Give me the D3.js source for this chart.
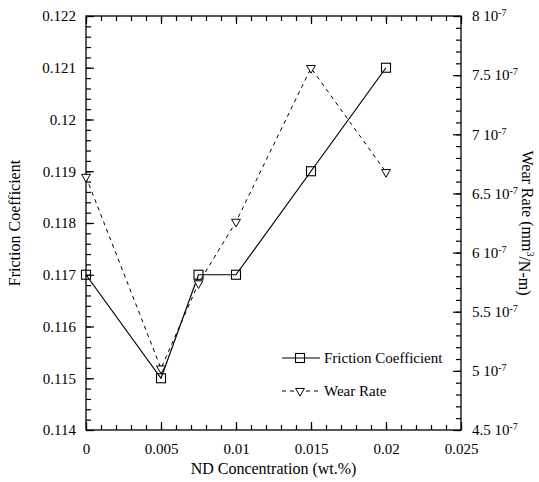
<!DOCTYPE html>
<html>
<head>
<meta charset="utf-8">
<script src="https://cdn.jsdelivr.net/npm/d3@7"></script>
<style>
  body { margin: 0; background: #fff; }
  #chart text { font-family: "Liberation Serif", "DejaVu Serif", serif !important; }
</style>
</head>
<body>
<svg id="chart"></svg>
<script>
// ND concentration (wt.%)
const concentration = [0, 0.005, 0.0075, 0.01, 0.015, 0.02];
const friction = [0.117, 0.115, 0.117, 0.117, 0.119, 0.121];
// wear rate in units of 1e-7 mm^3/N-m
const wearRate = [6.64, 5.02, 5.74, 6.26, 7.56, 6.68];

const xTicks = [0, 0.005, 0.01, 0.015, 0.02, 0.025];
const yLeftTicks = [0.114, 0.115, 0.116, 0.117, 0.118, 0.119, 0.12, 0.121, 0.122];
const yRightTicks = [4.5, 5, 5.5, 6, 6.5, 7, 7.5, 8];

const width = 539, height = 482;
const margin = { top: 16, right: 78, bottom: 52, left: 86 };
const w = width - margin.left - margin.right;
const h = height - margin.top - margin.bottom;

const svg = d3.select("#chart").attr("width", width).attr("height", height);
const g = svg.append("g").attr("transform", `translate(${margin.left},${margin.top})`);

const x = d3.scaleLinear().domain([0, 0.025]).range([0, w]);
const yL = d3.scaleLinear().domain([0.114, 0.122]).range([h, 0]);
const yR = d3.scaleLinear().domain([4.5, 8]).range([h, 0]);

const minor = (lo, hi, step) => d3.range(Math.round((hi - lo) / step) + 1).map(i => lo + i * step);
const xMinor = minor(0, 0.025, 0.001);
const yLMinor = minor(0.114, 0.122, 0.0002);
const yRMinor = minor(4.5, 8, 0.1);

function styleAxis(sel) {
  sel.attr("font-family", null).attr("font-size", 15);
  sel.select(".domain").remove();
  sel.selectAll("line").attr("stroke", "#000").attr("stroke-width", 1.2);
  sel.selectAll("text").attr("fill", "#000");
}

// minor ticks
g.append("g").attr("transform", `translate(0,${h})`)
  .call(d3.axisBottom(x).tickValues(xMinor).tickSize(-5).tickFormat("")).call(styleAxis);
g.append("g")
  .call(d3.axisTop(x).tickValues(xMinor).tickSize(-5).tickFormat("")).call(styleAxis);
g.append("g")
  .call(d3.axisLeft(yL).tickValues(yLMinor).tickSize(-5).tickFormat("")).call(styleAxis);
g.append("g").attr("transform", `translate(${w},0)`)
  .call(d3.axisRight(yR).tickValues(yRMinor).tickSize(-5).tickFormat("")).call(styleAxis);

// major ticks + labels
g.append("g").attr("transform", `translate(0,${h})`)
  .call(d3.axisBottom(x).tickValues(xTicks).tickSize(-8).tickPadding(13).tickFormat(d => String(+d.toFixed(3))))
  .call(styleAxis);
g.append("g")
  .call(d3.axisTop(x).tickValues(xTicks).tickSize(-8).tickFormat("")).call(styleAxis);
g.append("g")
  .call(d3.axisLeft(yL).tickValues(yLeftTicks).tickSize(-8).tickPadding(10).tickFormat(d => String(+d.toFixed(3))))
  .call(styleAxis);
const rightAxis = g.append("g").attr("transform", `translate(${w},0)`)
  .call(d3.axisRight(yR).tickValues(yRightTicks).tickSize(-8).tickPadding(11).tickFormat(""))
  .call(styleAxis);
rightAxis.selectAll(".tick text").each(function (d) {
  const t = d3.select(this);
  t.text(null);
  t.append("tspan").text(d + " 10");
  t.append("tspan").attr("dy", "-0.5em").attr("font-size", 10).text("-7");
});

// frame
g.append("rect").attr("width", w).attr("height", h)
  .attr("fill", "none").attr("stroke", "#000").attr("stroke-width", 1.3);

// lines
const fricLine = d3.line().x((d, i) => x(concentration[i])).y(d => yL(d));
const wearLine = d3.line().x((d, i) => x(concentration[i])).y(d => yR(d));

g.append("path").datum(wearRate).attr("d", wearLine)
  .attr("fill", "none").attr("stroke", "#000").attr("stroke-width", 1).attr("stroke-dasharray", "4,4");
g.append("path").datum(friction).attr("d", fricLine)
  .attr("fill", "none").attr("stroke", "#000").attr("stroke-width", 1.2);

const sq = 9;
const tri = d3.symbol().type(d3.symbolTriangle).size(34);

function square(sel, cx, cy) {
  sel.append("rect").attr("x", cx - sq / 2).attr("y", cy - sq / 2)
    .attr("width", sq).attr("height", sq)
    .attr("fill", "none").attr("stroke", "#000").attr("stroke-width", 1.1);
}
function triangle(sel, cx, cy) {
  sel.append("path").attr("d", tri)
    .attr("transform", `translate(${cx},${cy}) rotate(180)`)
    .attr("fill", "#fff").attr("stroke", "#000").attr("stroke-width", 1);
}

wearRate.forEach((v, i) => triangle(g, x(concentration[i]), yR(v)));
friction.forEach((v, i) => square(g, x(concentration[i]), yL(v)));

// legend
const leg = svg.append("g").attr("font-size", 15);
leg.append("line").attr("x1", 282).attr("x2", 320).attr("y1", 358).attr("y2", 358)
  .attr("stroke", "#000").attr("stroke-width", 1.2);
square(leg, 300, 358);
leg.append("text").attr("x", 324).attr("y", 363).text("Friction Coefficient");

leg.append("line").attr("x1", 282).attr("x2", 320).attr("y1", 391).attr("y2", 391)
  .attr("stroke", "#000").attr("stroke-width", 1).attr("stroke-dasharray", "4,4");
triangle(leg, 300, 391);
leg.append("text").attr("x", 324).attr("y", 396).text("Wear Rate");

// axis titles
svg.append("text").attr("x", margin.left + w / 2).attr("y", 474)
  .attr("text-anchor", "middle").attr("font-size", 16).text("ND Concentration (wt.%)");
svg.append("text").attr("transform", `translate(20,${margin.top + h / 2}) rotate(-90)`)
  .attr("text-anchor", "middle").attr("font-size", 16).text("Friction Coefficient");
const rt = svg.append("text").attr("transform", `translate(522,${margin.top + h / 2}) rotate(90)`)
  .attr("text-anchor", "middle").attr("font-size", 16);
rt.append("tspan").text("Wear Rate (mm");
rt.append("tspan").attr("dy", "-0.45em").attr("font-size", 10).text("3");
rt.append("tspan").attr("dy", "0.45em").text("/N-m)");
</script>
</body>
</html>
